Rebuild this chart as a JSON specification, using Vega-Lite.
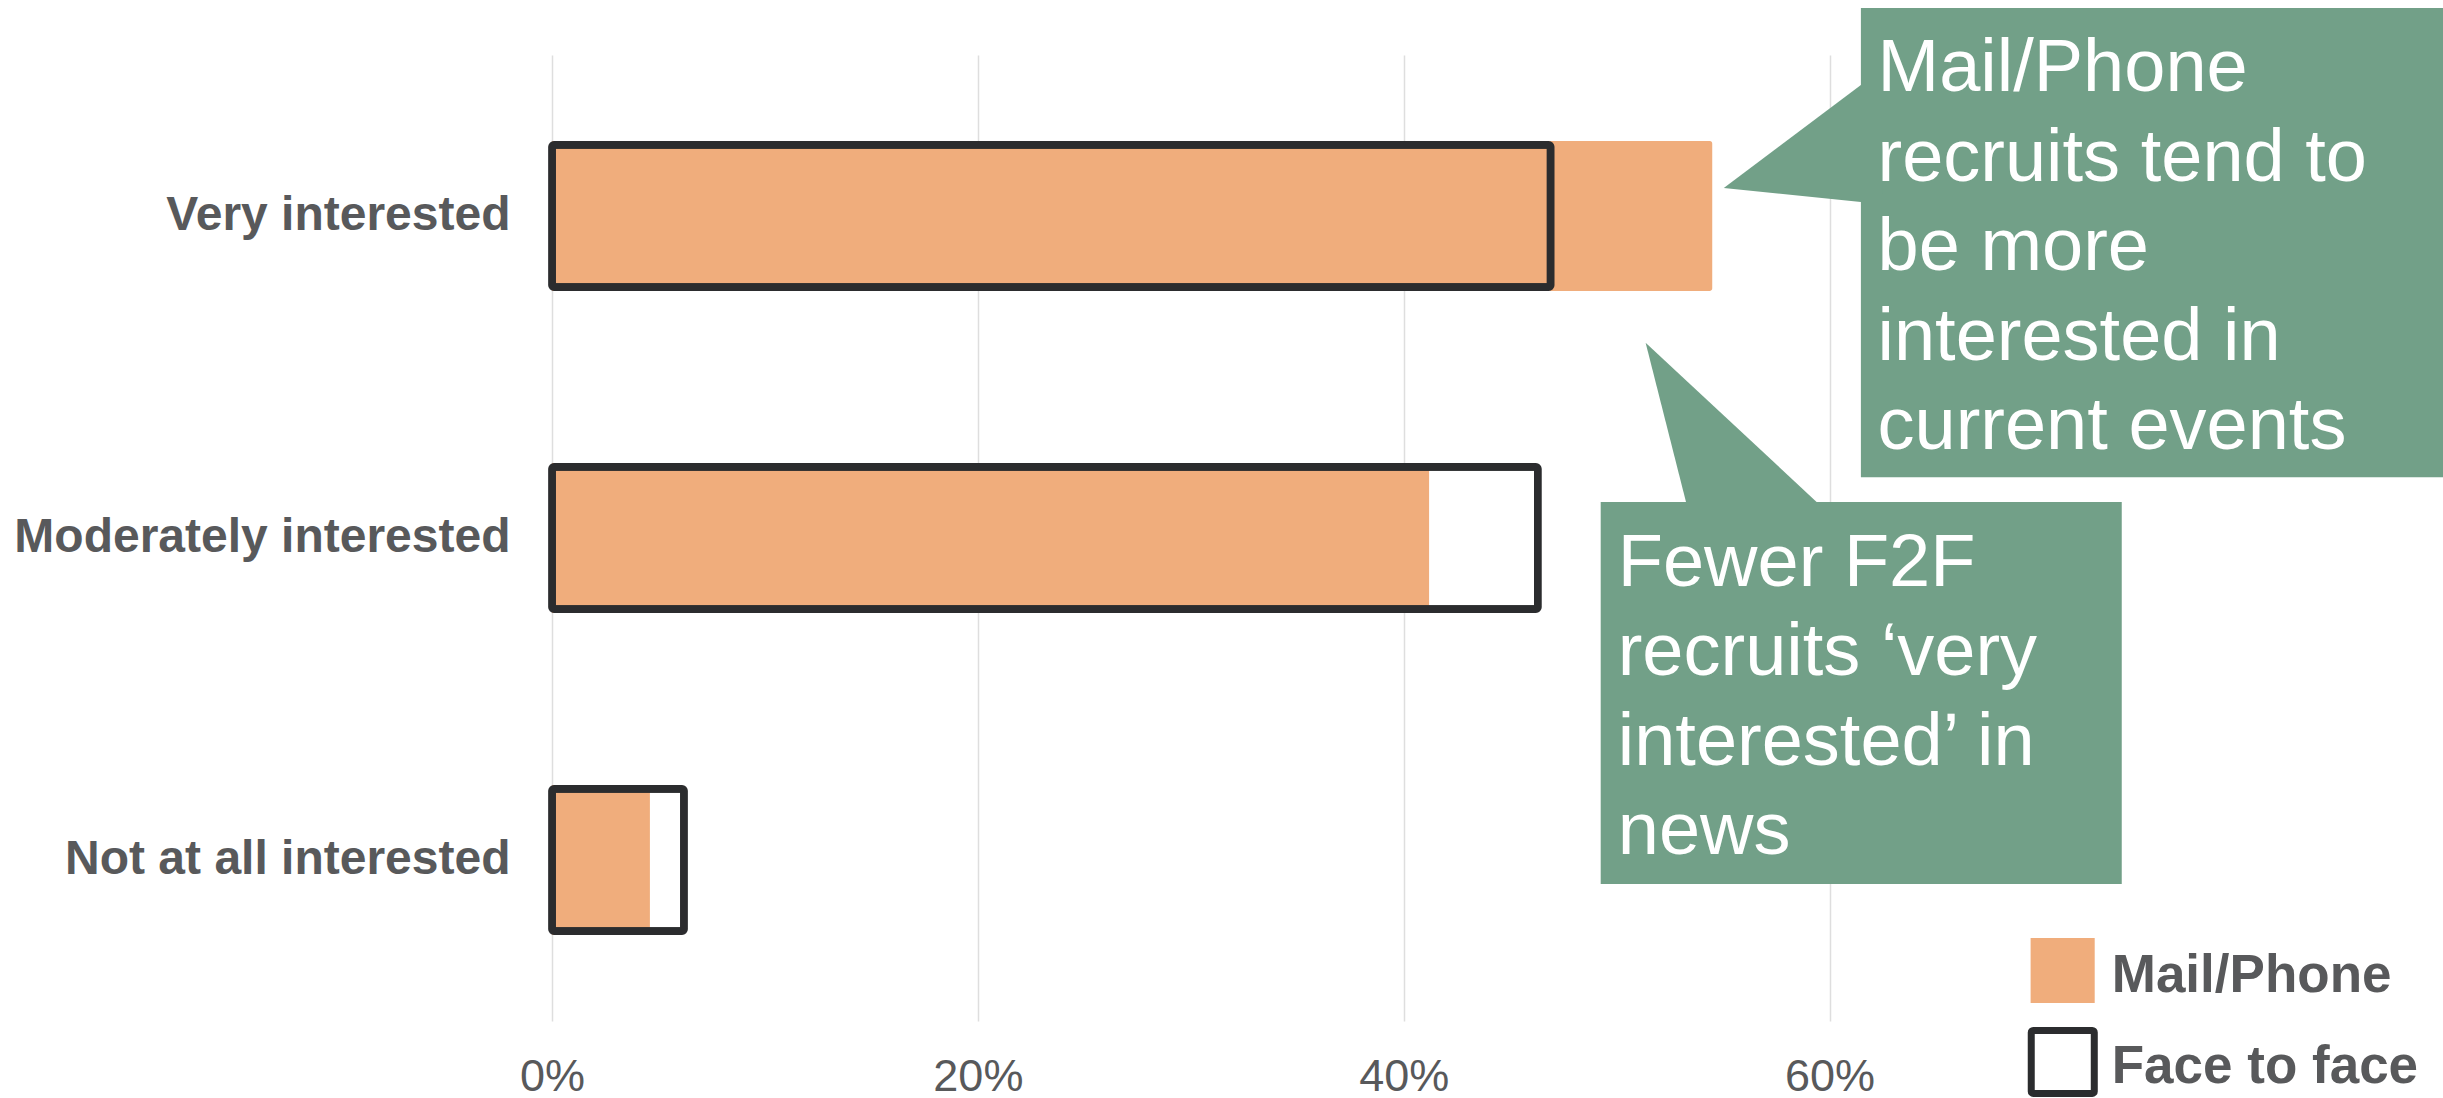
{
  "$schema": "https://vega.github.io/schema/vega-lite/v6.json",
  "width": 1597,
  "height": 966,
  "autosize": {"type": "none"},
  "padding": {"left": 552, "top": 55, "right": 294, "bottom": 77},
  "background": "white",
  "config": {
    "view": {"stroke": null},
    "font": "Liberation Sans",
    "axis": {"domain": false, "ticks": false, "labelFont": "Liberation Sans", "labelColor": "#58595b", "title": null, "labelLimit": 0},
    "axisX": {"grid": true, "gridColor": "#dedede", "gridWidth": 1.5, "labelFontSize": 45, "labelPadding": 33, "labelFlush": false},
    "axisY": {"grid": false, "labelFontSize": 48, "labelFontWeight": "bold", "labelPadding": 42}
  },
  "datasets": {
    "bars": [
      {"interest": "Very interested", "mode": "Mail/Phone", "pct": 0.545},
      {"interest": "Moderately interested", "mode": "Mail/Phone", "pct": 0.412},
      {"interest": "Not at all interested", "mode": "Mail/Phone", "pct": 0.046},
      {"interest": "Very interested", "mode": "Face to face", "pct": 0.469},
      {"interest": "Moderately interested", "mode": "Face to face", "pct": 0.463},
      {"interest": "Not at all interested", "mode": "Face to face", "pct": 0.062}
    ],
    "boxes": [
      {"box": "mail", "x1": 0.6147, "x2": 0.92, "y1": -0.646, "y2": 0.811},
      {"box": "f2f", "x1": 0.4925, "x2": 0.7372, "y1": 0.888, "y2": 2.0745}
    ],
    "pointers": [
      {"id": "a", "x": 0.5503, "yt": -0.087, "yb": -0.087},
      {"id": "a", "x": 0.6147, "yt": -0.407, "yb": -0.0435},
      {"id": "a", "x": 0.625, "yt": -0.407, "yb": -0.0435},
      {"id": "b", "x": 0.5136, "yt": 0.394, "yb": 0.394},
      {"id": "b", "x": 0.5334, "yt": 0.5153, "yb": 0.91},
      {"id": "b", "x": 0.5939, "yt": 0.888, "yb": 0.91}
    ],
    "notes": [
      {"x": 0.6225, "y": -0.388, "note": "Mail/Phone\nrecruits tend to\nbe more\ninterested in\ncurrent events"},
      {"x": 0.5005, "y": 1.149, "note": "Fewer F2F\nrecruits ‘very\ninterested’ in\nnews"}
    ],
    "legendKeys": [
      {"mode": "Mail/Phone", "x1": 0.6944, "x2": 0.7245, "y1": 2.242, "y2": 2.444},
      {"mode": "Face to face", "x1": 0.6947, "x2": 0.7243, "y1": 2.5295, "y2": 2.725}
    ],
    "legendText": [
      {"mode": "Mail/Phone", "x": 0.7325, "y": 2.41},
      {"mode": "Face to face", "x": 0.7325, "y": 2.693}
    ]
  },
  "layer": [
    {
      "data": {"name": "bars"},
      "encoding": {
        "y": {
          "field": "interest", "type": "nominal",
          "sort": ["Very interested", "Moderately interested", "Not at all interested"],
          "scale": {"domain": ["Very interested", "Moderately interested", "Not at all interested"], "paddingInner": 0.534, "paddingOuter": 0.267},
          "axis": {"title": null}
        },
        "x": {
          "field": "pct", "type": "quantitative",
          "scale": {"domain": [0, 0.75], "nice": false},
          "axis": {"values": [0, 0.2, 0.4, 0.6], "format": ".0%", "title": null}
        }
      },
      "layer": [
        {
          "transform": [{"filter": "datum.mode === 'Mail/Phone'"}],
          "mark": {"type": "bar", "color": "#F0AD7C", "cornerRadiusEnd": 3}
        },
        {
          "transform": [{"filter": "datum.mode === 'Face to face'"}],
          "mark": {"type": "bar", "filled": false, "fill": null, "stroke": "#2b2c2e", "strokeWidth": 7.7, "height": {"band": 0.949}, "cornerRadius": 2}
        }
      ]
    },
    {
      "layer": [
        {
          "data": {"name": "boxes"},
          "mark": {"type": "rect", "color": "#72A088"},
          "encoding": {
            "x": {"field": "x1", "type": "quantitative", "scale": {"domain": [0, 0.75], "nice": false}, "axis": {"values": [0, 0.2, 0.4, 0.6], "format": ".0%", "title": null}},
            "x2": {"field": "x2"},
            "y": {"field": "y1", "type": "quantitative", "scale": {"domain": [-0.5, 2.5], "reverse": true, "nice": false, "zero": false}, "axis": null},
            "y2": {"field": "y2"}
          }
        },
        {
          "data": {"name": "pointers"},
          "mark": {"type": "area", "color": "#72A088", "orient": "vertical", "interpolate": "linear"},
          "encoding": {
            "x": {"field": "x", "type": "quantitative", "scale": {"domain": [0, 0.75], "nice": false}, "axis": {"values": [0, 0.2, 0.4, 0.6], "format": ".0%", "title": null}},
            "y": {"field": "yt", "type": "quantitative", "scale": {"domain": [-0.5, 2.5], "reverse": true, "nice": false, "zero": false}, "axis": null},
            "y2": {"field": "yb"},
            "detail": {"field": "id", "type": "nominal"}
          }
        },
        {
          "data": {"name": "notes"},
          "mark": {"type": "text", "font": "Liberation Sans", "fontSize": 74, "color": "#ffffff", "align": "left", "baseline": "alphabetic", "lineBreak": "\n", "lineHeight": 89.5},
          "encoding": {
            "x": {"field": "x", "type": "quantitative", "scale": {"domain": [0, 0.75], "nice": false}, "axis": {"values": [0, 0.2, 0.4, 0.6], "format": ".0%", "title": null}},
            "y": {"field": "y", "type": "quantitative", "scale": {"domain": [-0.5, 2.5], "reverse": true, "nice": false, "zero": false}, "axis": null},
            "text": {"field": "note", "type": "nominal"}
          }
        },
        {
          "data": {"name": "legendKeys"},
          "transform": [{"filter": "datum.mode === 'Mail/Phone'"}],
          "mark": {"type": "rect", "color": "#F0AD7C"},
          "encoding": {
            "x": {"field": "x1", "type": "quantitative", "scale": {"domain": [0, 0.75], "nice": false}, "axis": {"values": [0, 0.2, 0.4, 0.6], "format": ".0%", "title": null}},
            "x2": {"field": "x2"},
            "y": {"field": "y1", "type": "quantitative", "scale": {"domain": [-0.5, 2.5], "reverse": true, "nice": false, "zero": false}, "axis": null},
            "y2": {"field": "y2"}
          }
        },
        {
          "data": {"name": "legendKeys"},
          "transform": [{"filter": "datum.mode === 'Face to face'"}],
          "mark": {"type": "rect", "fill": "#ffffff", "stroke": "#2b2c2e", "strokeWidth": 7, "cornerRadius": 2},
          "encoding": {
            "x": {"field": "x1", "type": "quantitative", "scale": {"domain": [0, 0.75], "nice": false}, "axis": {"values": [0, 0.2, 0.4, 0.6], "format": ".0%", "title": null}},
            "x2": {"field": "x2"},
            "y": {"field": "y1", "type": "quantitative", "scale": {"domain": [-0.5, 2.5], "reverse": true, "nice": false, "zero": false}, "axis": null},
            "y2": {"field": "y2"}
          }
        },
        {
          "data": {"name": "legendText"},
          "mark": {"type": "text", "font": "Liberation Sans", "fontSize": 53, "fontWeight": "bold", "color": "#58595b", "align": "left", "baseline": "alphabetic"},
          "encoding": {
            "x": {"field": "x", "type": "quantitative", "scale": {"domain": [0, 0.75], "nice": false}, "axis": {"values": [0, 0.2, 0.4, 0.6], "format": ".0%", "title": null}},
            "y": {"field": "y", "type": "quantitative", "scale": {"domain": [-0.5, 2.5], "reverse": true, "nice": false, "zero": false}, "axis": null},
            "text": {"field": "mode", "type": "nominal"}
          }
        }
      ]
    }
  ],
  "resolve": {"scale": {"y": "independent"}, "axis": {"y": "independent"}}
}
